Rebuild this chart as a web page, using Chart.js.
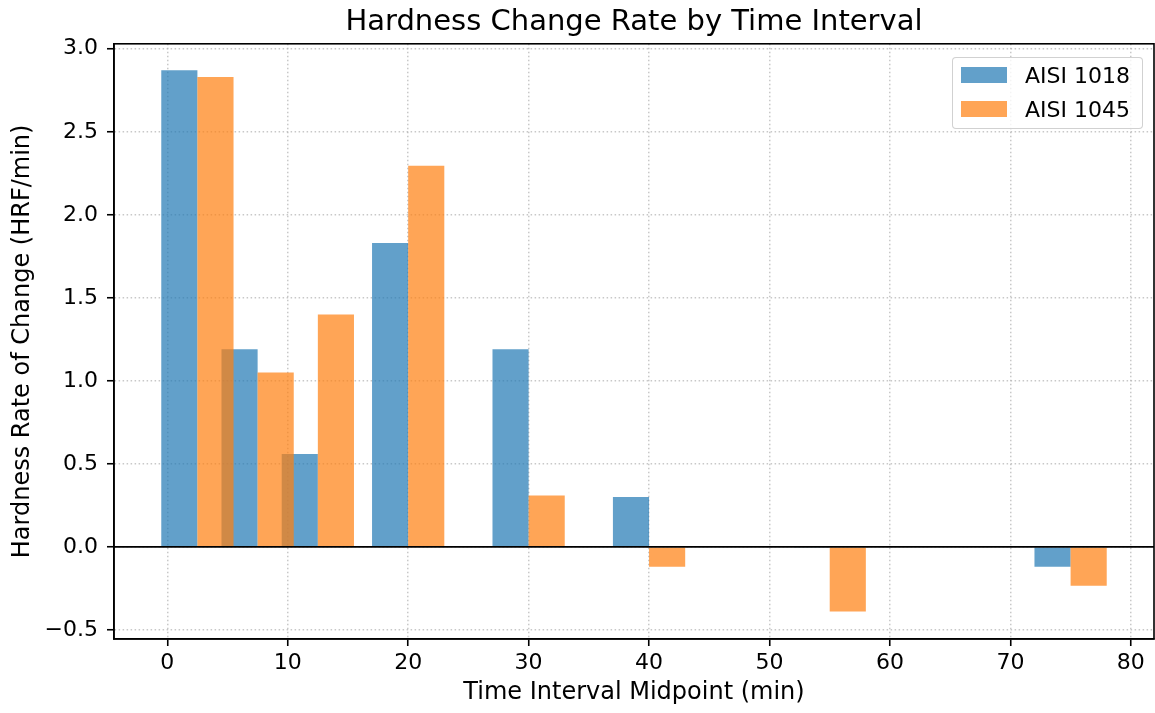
<!DOCTYPE html>
<html lang="en">
<head>
  <meta charset="UTF-8" />
  <title>Hardness Change Rate by Time Interval</title>
  <script src="https://cdn.jsdelivr.net/npm/chart.js"></script>
</head>
<style>
  body {
    margin: 0;
    background: #fff;
  }
  #wrap {
    position: relative;
    width: 1155px;
    height: 713px;
  }
  .legend {
    position: absolute;
    left: 952px;
    top: 57px;
    width: 189px;
    height: 70px;
    border: 1px solid rgba(204, 204, 204, 0.9);
    border-radius: 4px;
    background: rgba(255, 255, 255, 0.8);
    font-family: "DejaVu Sans", sans-serif;
    font-size: 22px;
    color: #000;
  }
  .legend .row {
    position: absolute;
    left: 8px;
    height: 26px;
    display: flex;
    align-items: center;
  }
  .legend .patch {
    width: 46px;
    height: 16px;
    margin-right: 18px;
  }
</style>
<body>
  <div id="wrap">
    <canvas id="grafico" width="1155" height="713"></canvas>
    <div class="legend">
      <div class="row" style="top: 4px"><span class="patch" style="background: rgba(31,119,180,0.7)"></span><span id="lab0"></span></div>
      <div class="row" style="top: 38px"><span class="patch" style="background: rgba(255,127,14,0.7)"></span><span id="lab1"></span></div>
    </div>
  </div>
  <script>
    // midpoints of the time intervals (min)
    const midpoints = [2.5, 7.5, 12.5, 20, 30, 40, 55, 75];
    const seriesNames = ['AISI 1018', 'AISI 1045'];
    const aisi1018 = [2.87, 1.19, 0.56, 1.83, 1.19, 0.30, -0.005, -0.12];
    const aisi1045 = [2.83, 1.05, 1.40, 2.295, 0.31, -0.12, -0.39, -0.235];
    const xTicks = [0, 10, 20, 30, 40, 50, 60, 70, 80];
    const yTicks = [-0.5, 0.0, 0.5, 1.0, 1.5, 2.0, 2.5, 3.0];

    const barWidth = 3; // in minutes, each bar
    const fonte = '"DejaVu Sans", sans-serif';

    document.getElementById('lab0').textContent = seriesNames[0];
    document.getElementById('lab1').textContent = seriesNames[1];

    const blueData = midpoints.map((m, i) => ({ x: m - barWidth / 2, y: aisi1018[i] }));
    const orangeData = midpoints.map((m, i) => ({ x: m + barWidth / 2, y: aisi1045[i] }));

    // frame around the plot + black zero line
    const moldura = {
      id: 'moldura',
      afterDraw(chart) {
        const { ctx, chartArea: a, scales } = chart;
        const y0 = scales.y.getPixelForValue(0);
        ctx.save();
        ctx.strokeStyle = '#000';
        ctx.lineWidth = 1.6;
        ctx.beginPath();
        ctx.moveTo(a.left, y0);
        ctx.lineTo(a.right, y0);
        ctx.stroke();
        ctx.strokeRect(a.left, a.top, a.right - a.left, a.bottom - a.top);
        ctx.restore();
      }
    };

    const ctx = document.getElementById('grafico').getContext('2d');
    new Chart(ctx, {
      type: 'bar',
      data: {
        datasets: [{
          label: seriesNames[0],
          data: blueData,
          backgroundColor: 'rgba(31, 119, 180, 0.7)',
          borderWidth: 0,
          order: 1
        }, {
          label: seriesNames[1],
          data: orangeData,
          backgroundColor: 'rgba(255, 127, 14, 0.7)',
          borderWidth: 0,
          order: 0
        }]
      },
      options: {
        responsive: false,
        animation: false,
        grouped: false,
        categoryPercentage: 1.5,
        barPercentage: 1,
        layout: { padding: { top: 0, right: 1, bottom: 0, left: 0 } },
        plugins: {
          legend: { display: false },
          tooltip: { enabled: false },
          title: {
            display: true,
            fullSize: false,
            text: 'Hardness Change Rate by Time Interval',
            color: '#000',
            font: { family: fonte, size: 29, weight: 'normal', lineHeight: 1.2 },
            padding: { top: 5, bottom: 4 }
          }
        },
        scales: {
          x: {
            type: 'linear',
            min: -4.425,
            max: 81.925,
            offset: false,
            z: 1,
            afterFit: (s) => { s.height = 74; },
            afterBuildTicks: (s) => { s.ticks = xTicks.map(v => ({ value: v })); },
            ticks: {
              color: '#000',
              padding: 4,
              maxRotation: 0,
              font: { family: fonte, size: 22 },
              callback: (v) => String(v)
            },
            grid: {
              offset: false,
              color: 'rgba(176, 176, 176, 0.7)',
              lineWidth: 1.5,
              tickLength: 7,
              tickColor: '#000',
              tickWidth: 1.6
            },
            border: { display: true, color: '#000', width: 1.6, dash: [1.5, 2.5] },
            title: {
              display: true,
              text: 'Time Interval Midpoint (min)',
              color: '#000',
              font: { family: fonte, size: 24, lineHeight: 1.2 },
              padding: { top: 0, bottom: 6 }
            }
          },
          y: {
            min: -0.555,
            max: 3.03,
            z: 1,
            afterFit: (s) => { s.width = 114; },
            afterBuildTicks: (s) => { s.ticks = yTicks.map(v => ({ value: v })); },
            ticks: {
              color: '#000',
              padding: 9,
              font: { family: fonte, size: 22 },
              callback: (v) => v.toFixed(1).replace('-', '\u2212')
            },
            grid: {
              color: 'rgba(176, 176, 176, 0.7)',
              lineWidth: 1.5,
              tickLength: 7,
              tickColor: '#000',
              tickWidth: 1.6
            },
            border: { display: true, color: '#000', width: 1.6, dash: [1.5, 2.5] },
            title: {
              display: true,
              text: 'Hardness Rate of Change (HRF/min)',
              color: '#000',
              font: { family: fonte, size: 24, lineHeight: 1.2 },
              padding: { top: 8, bottom: 0 }
            }
          }
        }
      },
      plugins: [moldura]
    });
  </script>
</body>
</html>
